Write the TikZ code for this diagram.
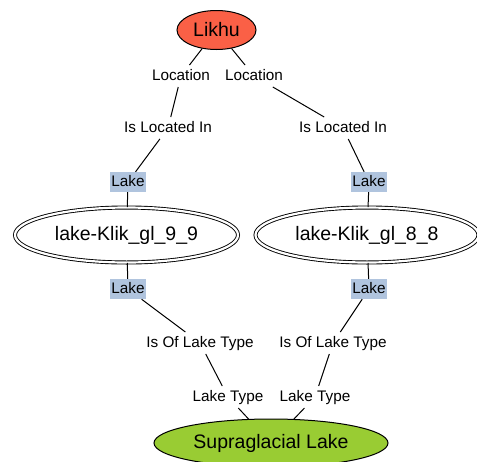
\documentclass[tikz,border=0pt]{standalone}
\usepackage{fontspec}
\setmainfont{Liberation Sans}
\usetikzlibrary{shapes.geometric}
\definecolor{likhured}{RGB}{250,96,70}
\definecolor{glaciergreen}{RGB}{153,204,51}
\definecolor{lakeblue}{RGB}{176,196,222}
\begin{document}
\begin{tikzpicture}[x=1pt,y=-1pt,
  rel/.style={inner sep=2pt,outer sep=2pt,text height=11pt,text depth=3pt,font=\fontsize{15.3}{18}\selectfont},
  cls/.style={fill=lakeblue,inner xsep=1pt,inner ysep=0pt,minimum height=20pt,text height=11pt,text depth=3pt,font=\fontsize{15.3}{18}\selectfont},
  lakenode/.style={ellipse,draw,double,double distance=2.2pt,line width=0.9pt,minimum width=223pt,minimum height=55pt,inner sep=0pt,font=\fontsize{19.5}{23}\selectfont},
  link/.style={line width=1pt}]
\useasboundingbox (0,0) rectangle (477,461);
% top and bottom classes
\node[ellipse,draw,line width=1pt,fill=likhured,minimum width=79pt,minimum height=39pt,inner sep=0pt,font=\fontsize{19.5}{23}\selectfont] (likhu) at (216.5,30) {Likhu};
\node[ellipse,draw,line width=1pt,fill=glaciergreen,minimum width=234pt,minimum height=48pt,inner sep=0pt,font=\fontsize{19.5}{23}\selectfont] (supra) at (271,443) {Supraglacial Lake};
% the two lakes
\node[lakenode] (klik9) at (126.5,235) {lake-Klik\_gl\_9\_9};
\node[lakenode] (klik8) at (367,235) {lake-Klik\_gl\_8\_8};
\node[cls] (lake9a) at (128,182) {Lake};
\node[cls] (lake8a) at (369,182) {Lake};
\node[cls] (lake9b) at (128,289) {Lake};
\node[cls] (lake8b) at (369,289) {Lake};
% relation labels
\node[rel] (loc9) at (181,76) {Location};
\node[rel] (loc8) at (254,76) {Location};
\node[rel] (in9) at (168,128) {Is Located In};
\node[rel] (in8) at (343,128) {Is Located In};
\node[rel] (oftype9) at (200,343) {Is Of Lake Type};
\node[rel] (oftype8) at (333,343) {Is Of Lake Type};
\node[rel] (type9) at (228,397) {Lake Type};
\node[rel] (type8) at (315,397) {Lake Type};
% links
\foreach \a/\b in {likhu/loc9,loc9/in9,in9/lake9a,lake9a/klik9,klik9/lake9b,lake9b/oftype9,oftype9/type9,type9/supra,
  likhu/loc8,loc8/in8,in8/lake8a,lake8a/klik8,klik8/lake8b,lake8b/oftype8,oftype8/type8,type8/supra}
  \draw[link] (\a) -- (\b);
\end{tikzpicture}
\end{document}
